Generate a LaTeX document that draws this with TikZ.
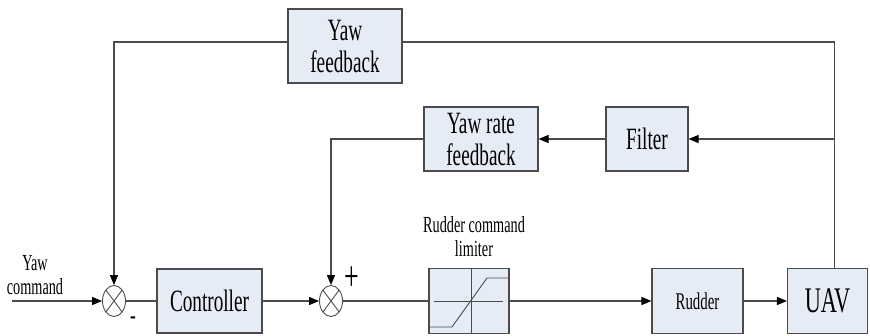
\documentclass[tikz,border=0pt]{standalone}
\usepackage{fontspec}
\setmainfont{Liberation Serif}[FakeStretch=0.62]
\usetikzlibrary{arrows.meta, shapes.geometric}
\definecolor{boxfill}{RGB}{230,236,246}
\definecolor{linegray}{RGB}{75,75,75}
\tikzset{
  blk/.style={draw=linegray, fill=boxfill, line width=1.1pt, inner sep=0pt, align=center},
  sumnode/.style={draw=linegray, ellipse, minimum width=23pt, minimum height=31pt, inner sep=0pt, line width=0.9pt,
    path picture={\draw[linegray, line width=0.9pt] (path picture bounding box.north west) -- (path picture bounding box.south east)
      (path picture bounding box.north east) -- (path picture bounding box.south west);}},
  sig/.style={draw=linegray, line width=1.1pt},
  arr/.style={sig, -{Triangle[length=10pt, width=8pt, color=black]}},
  lbl/.style={align=center, inner sep=0pt, font=\fontsize{23}{24}\selectfont},
  big/.style={font=\fontsize{31}{32}\selectfont}
}

\begin{document}
\begin{tikzpicture}[x=1pt, y=-1pt]
\useasboundingbox (0,0) rectangle (870,335);

\node[sumnode] (s1) at (114,301) {};
\node[sumnode] (s2) at (331,301) {};

\node[blk, big, minimum width=105pt, minimum height=64pt] (ctrl) at (209.5,301) {Controller};
\node[blk, minimum width=80pt, minimum height=65pt] (lim) at (469,301) {};
\node[blk, minimum width=91pt, minimum height=65pt, font=\fontsize{24}{26}\selectfont] (rud) at (697.5,301) {Rudder};
\node[blk, minimum width=80pt, minimum height=65pt, font=\fontsize{36}{38}\selectfont] (uav) at (827.5,301) {UAV};

\node[blk, big, minimum width=114pt, minimum height=74pt] (yawfb) at (345,46) {Yaw\\feedback};
\node[blk, big, minimum width=114pt, minimum height=64pt] (rate) at (481,139) {Yaw rate\\feedback};
\node[blk, big, minimum width=82pt, minimum height=64pt] (filt) at (647,139) {Filter};

\draw[linegray, line width=0.9pt] (471,268.5) -- (471,333.5);
\draw[linegray, line width=0.9pt] (434,301) -- (503,301);
\draw[linegray, line width=0.9pt] (429,327) -- (452,327) -- (487,278) -- (509,278);

\node[lbl] (cmdlbl) at (35,275) {Yaw\\command};
\node[lbl] (limlbl) at (474,237) {Rudder command\\limiter};
\node[font=\fontsize{28}{30}\selectfont, inner sep=0pt] (minus) at (133,321) {-};
\node[font=\fontsize{42}{44}\selectfont, inner sep=0pt] (plus) at (352,279) {+};

\coordinate (cmd) at (12,301);
\coordinate (tap) at ([xshift=7pt]uav.north);
\coordinate (branch) at (tap |- filt.east);

\draw[arr] (cmd) -- (s1);
\draw[sig] (s1) -- (ctrl);
\draw[arr] (ctrl) -- (s2);
\draw[sig] (s2) -- (lim);
\draw[arr] (lim) -- (rud);
\draw[arr] (rud) -- (uav);
\draw[sig] (tap) |- ([yshift=4pt]yawfb.east);
\draw[arr] ([yshift=4pt]yawfb.west) -| (s1.north);
\draw[arr] (branch) -- (filt.east);
\draw[arr] (filt) -- (rate);
\draw[arr] (rate.west) -| (s2.north);
\end{tikzpicture}
\end{document}
